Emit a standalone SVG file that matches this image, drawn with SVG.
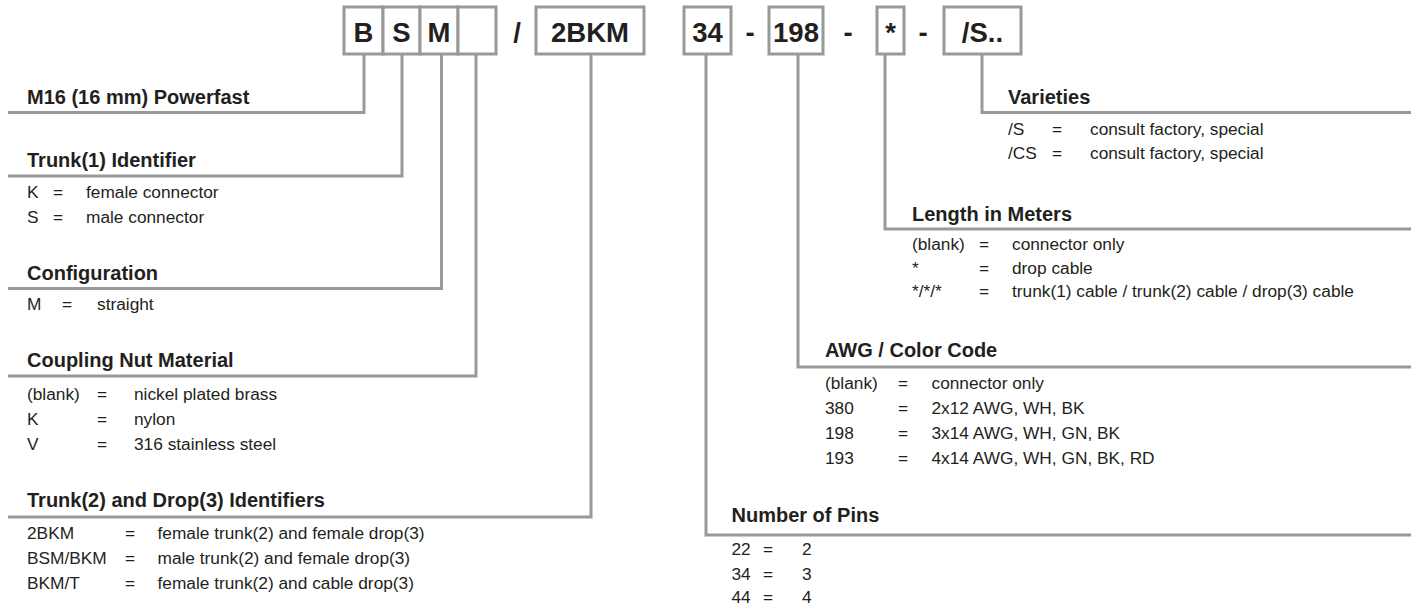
<svg xmlns="http://www.w3.org/2000/svg" width="1418" height="606" viewBox="0 0 1418 606">
<style>
.bg{fill:#ffffff}
.box{fill:#ffffff;stroke:#999999;stroke-width:3}
.code{font-family:"Liberation Sans",Arial,sans-serif;font-weight:bold;font-size:27.5px;fill:#231f20;text-anchor:middle}
.sep{font-family:"Liberation Sans",Arial,sans-serif;font-weight:bold;font-size:27.5px;fill:#231f20;text-anchor:middle}
.conn{fill:none;stroke:#999999;stroke-width:3;stroke-linejoin:miter}
.title{font-family:"Liberation Sans",Arial,sans-serif;font-weight:bold;font-size:20px;fill:#231f20}
.row{font-family:"Liberation Sans",Arial,sans-serif;font-size:17.3px;fill:#231f20}
</style>
<rect class="bg" x="0" y="0" width="1418" height="606"/>

<g id="connectors">
<polyline class="conn" points="364,54 364,112.5 8,112.5"/>
<polyline class="conn" points="402,54 402,176 8,176"/>
<polyline class="conn" points="441.5,54 441.5,288.5 8,288.5"/>
<polyline class="conn" points="476,54 476,376 8,376"/>
<polyline class="conn" points="591,54 591,517 8,517"/>
<polyline class="conn" points="706,54 706,535 1411,535"/>
<polyline class="conn" points="798,54 798,367 1411,367"/>
<polyline class="conn" points="885,54 885,229 1411,229"/>
<polyline class="conn" points="982,54 982,112.5 1411,112.5"/>
</g>

<g id="code-boxes">
<g id="box-B"><rect class="box" x="344" y="7" width="39" height="47"/><text class="code" x="363.5" y="42">B</text></g>
<g id="box-S"><rect class="box" x="383" y="7" width="37" height="47"/><text class="code" x="401.5" y="42">S</text></g>
<g id="box-M"><rect class="box" x="420" y="7" width="38" height="47"/><text class="code" x="439" y="42">M</text></g>
<g id="box-blank"><rect class="box" x="458" y="7" width="38" height="47"/></g>
<text class="sep" x="517" y="42">/</text>
<g id="box-2BKM"><rect class="box" x="536" y="7" width="108" height="47"/><text class="code" x="590" y="42">2BKM</text></g>
<g id="box-34"><rect class="box" x="684" y="7" width="47" height="47"/><text class="code" x="707.5" y="42">34</text></g>
<text class="sep" x="750" y="42">-</text>
<g id="box-198"><rect class="box" x="769" y="7" width="54" height="47"/><text class="code" x="796" y="42">198</text></g>
<text class="sep" x="848" y="42">-</text>
<g id="box-star"><rect class="box" x="877" y="7" width="27" height="47"/><text class="code" x="890.5" y="42">*</text></g>
<text class="sep" x="923" y="42">-</text>
<g id="box-S-dots"><rect class="box" x="944" y="7" width="77" height="47"/><text class="code" x="982.5" y="42">/S..</text></g>
</g>

<g id="powerfast">
<text class="title" x="27" y="104">M16 (16 mm) Powerfast</text>
</g>

<g id="trunk1">
<text class="title" x="27" y="167">Trunk(1) Identifier</text>
<text class="row" x="27" y="198">K</text><text class="row" x="53" y="198">=</text><text class="row" x="86" y="198">female connector</text>
<text class="row" x="27" y="223">S</text><text class="row" x="53" y="223">=</text><text class="row" x="86" y="223">male connector</text>
</g>

<g id="configuration">
<text class="title" x="27" y="280">Configuration</text>
<text class="row" x="27" y="310">M</text><text class="row" x="62" y="310">=</text><text class="row" x="97" y="310">straight</text>
</g>

<g id="coupling">
<text class="title" x="27" y="367">Coupling Nut Material</text>
<text class="row" x="27" y="400">(blank)</text><text class="row" x="97" y="400">=</text><text class="row" x="134" y="400">nickel plated brass</text>
<text class="row" x="27" y="425">K</text><text class="row" x="97" y="425">=</text><text class="row" x="134" y="425">nylon</text>
<text class="row" x="27" y="450">V</text><text class="row" x="97" y="450">=</text><text class="row" x="134" y="450">316 stainless steel</text>
</g>

<g id="trunk2-drop3">
<text class="title" x="27" y="507">Trunk(2) and Drop(3) Identifiers</text>
<text class="row" x="27" y="539">2BKM</text><text class="row" x="125" y="539">=</text><text class="row" x="157.5" y="539">female trunk(2) and female drop(3)</text>
<text class="row" x="27" y="564">BSM/BKM</text><text class="row" x="125" y="564">=</text><text class="row" x="157.5" y="564">male trunk(2) and female drop(3)</text>
<text class="row" x="27" y="589">BKM/T</text><text class="row" x="125" y="589">=</text><text class="row" x="157.5" y="589">female trunk(2) and cable drop(3)</text>
</g>

<g id="varieties">
<text class="title" x="1008" y="104">Varieties</text>
<text class="row" x="1008" y="135">/S</text><text class="row" x="1052" y="135">=</text><text class="row" x="1090" y="135">consult factory, special</text>
<text class="row" x="1008" y="159">/CS</text><text class="row" x="1052" y="159">=</text><text class="row" x="1090" y="159">consult factory, special</text>
</g>

<g id="length">
<text class="title" x="912" y="221">Length in Meters</text>
<text class="row" x="912" y="250">(blank)</text><text class="row" x="979" y="250">=</text><text class="row" x="1012" y="250">connector only</text>
<text class="row" x="912" y="274">*</text><text class="row" x="979" y="274">=</text><text class="row" x="1012" y="274">drop cable</text>
<text class="row" x="912" y="297">*/*/*</text><text class="row" x="979" y="297">=</text><text class="row" x="1012" y="297">trunk(1) cable / trunk(2) cable / drop(3) cable</text>
</g>

<g id="awg">
<text class="title" x="825" y="357">AWG / Color Code</text>
<text class="row" x="825" y="389">(blank)</text><text class="row" x="898" y="389">=</text><text class="row" x="931.5" y="389">connector only</text>
<text class="row" x="825" y="414">380</text><text class="row" x="898" y="414">=</text><text class="row" x="931.5" y="414">2x12 AWG, WH, BK</text>
<text class="row" x="825" y="439">198</text><text class="row" x="898" y="439">=</text><text class="row" x="931.5" y="439">3x14 AWG, WH, GN, BK</text>
<text class="row" x="825" y="464">193</text><text class="row" x="898" y="464">=</text><text class="row" x="931.5" y="464">4x14 AWG, WH, GN, BK, RD</text>
</g>

<g id="pins">
<text class="title" x="731.5" y="522">Number of Pins</text>
<text class="row" x="731.5" y="555">22</text><text class="row" x="763" y="555">=</text><text class="row" x="802" y="555">2</text>
<text class="row" x="731.5" y="580">34</text><text class="row" x="763" y="580">=</text><text class="row" x="802" y="580">3</text>
<text class="row" x="731.5" y="603">44</text><text class="row" x="763" y="603">=</text><text class="row" x="802" y="603">4</text>
</g>
</svg>
